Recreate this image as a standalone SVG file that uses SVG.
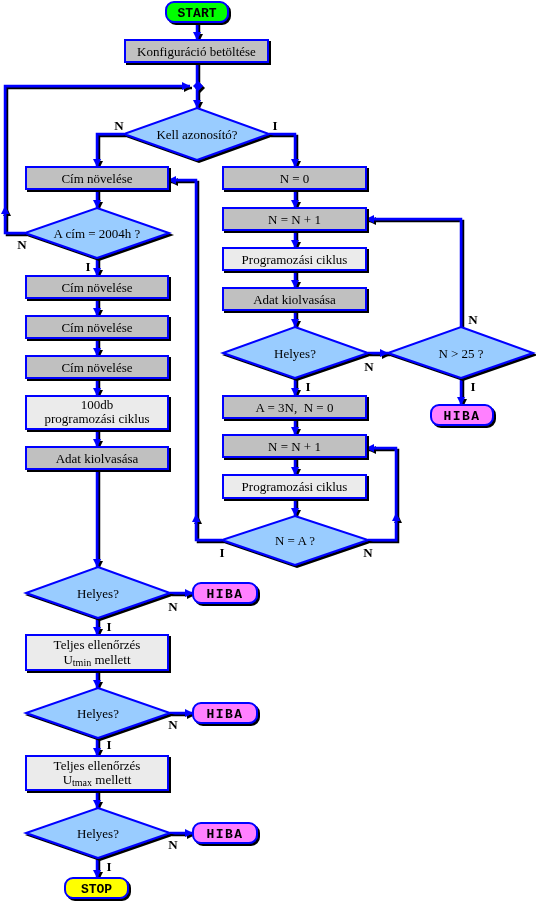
<svg xmlns="http://www.w3.org/2000/svg" xmlns:xlink="http://www.w3.org/1999/xlink" width="536" height="903" viewBox="0 0 536 903">
<style>
.bx{stroke:#0000ff;stroke-width:2;filter:url(#sh)}
.g{fill:#c0c0c0}.l{fill:#ebebeb}.d{fill:#99ccff}
.t{font-family:"Liberation Serif","Times New Roman",serif;font-size:13px;fill:#000;text-anchor:middle}
.lb{font-family:"Liberation Serif","Times New Roman",serif;font-size:13px;font-weight:bold;fill:#000;text-anchor:middle}
.tm{font-family:"Liberation Mono","Courier New",monospace;font-size:13px;font-weight:bold;fill:#000;text-anchor:middle}
.c path{fill:none;stroke:#0000ff;stroke-width:2.5}
</style>
<defs>
<filter id="sh" filterUnits="userSpaceOnUse" x="0" y="0" width="536" height="903"><feDropShadow dx="2" dy="2" stdDeviation="0" flood-color="#000" flood-opacity="1"/></filter>
<marker id="a" viewBox="0 0 10 10" refX="10" refY="5" markerWidth="8" markerHeight="8" markerUnits="userSpaceOnUse" orient="auto"><path d="M0,0 L10,5 L0,10 z" fill="#0000ff" stroke="none"/></marker>
<path id="up" d="M-4,4 L4,4 L0,-4 z" fill="#0000ff"/>
</defs>
<g class="c" filter="url(#sh)">
<path d="M197,22 V40" marker-end="url(#a)"/>
<path d="M197,62 V108" marker-end="url(#a)"/>
<path d="M25,233 H5 V86 H190" marker-end="url(#a)"/>
<use xlink:href="#up" x="5" y="210"/>
<polygon points="198,81 203,86 198,91 193,86" fill="#0000ff"/>
<path d="M124,134 H97 V167" marker-end="url(#a)"/>
<path d="M269,134 H295 V167" marker-end="url(#a)"/>
<path d="M97,189 V208" marker-end="url(#a)"/>
<path d="M97,258 V276" marker-end="url(#a)"/>
<path d="M97,298 V316" marker-end="url(#a)"/>
<path d="M97,338 V356" marker-end="url(#a)"/>
<path d="M97,378 V396" marker-end="url(#a)"/>
<path d="M97,429 V447" marker-end="url(#a)"/>
<path d="M97,469 V567" marker-end="url(#a)"/>
<path d="M170,593 H193" marker-end="url(#a)"/>
<path d="M97,618 V635" marker-end="url(#a)"/>
<path d="M97,670 V688" marker-end="url(#a)"/>
<path d="M170,713 H193" marker-end="url(#a)"/>
<path d="M97,738 V756" marker-end="url(#a)"/>
<path d="M97,790 V808" marker-end="url(#a)"/>
<path d="M170,833 H193" marker-end="url(#a)"/>
<path d="M97,858 V878" marker-end="url(#a)"/>
<path d="M295,189 V208" marker-end="url(#a)"/>
<path d="M295,230 V248" marker-end="url(#a)"/>
<path d="M295,270 V288" marker-end="url(#a)"/>
<path d="M295,310 V327" marker-end="url(#a)"/>
<path d="M368,353 H388" marker-end="url(#a)"/>
<path d="M295,378 V396" marker-end="url(#a)"/>
<path d="M461,378 V405" marker-end="url(#a)"/>
<path d="M461,327 V219 H366" marker-end="url(#a)"/>
<path d="M295,418 V435" marker-end="url(#a)"/>
<path d="M295,457 V475" marker-end="url(#a)"/>
<path d="M295,498 V516" marker-end="url(#a)"/>
<path d="M368,540 H396 V448 H366" marker-end="url(#a)"/>
<use xlink:href="#up" x="396" y="517"/>
<path d="M222,540 H196 V180 H168" marker-end="url(#a)"/>
<use xlink:href="#up" x="196" y="518"/>
</g>
<g id="start"><rect class="bx" x="166" y="2" width="62" height="20" rx="8" fill="#00ff00"/><text class="tm" x="197" y="16.5">START</text></g>
<g id="konfig"><rect class="bx g" x="125" y="40" width="143" height="22"/><text class="t" x="196.5" y="55.5">Konfiguráció betöltése</text></g>
<g id="kell"><polygon class="bx d" points="197,108 269,134 197,160 124,134"/><text class="t" x="197" y="138.5">Kell azonosító?</text></g>
<g id="cim0"><rect class="bx g" x="26" y="167" width="142" height="22"/><text class="t" x="97" y="182.5">Cím növelése</text></g>
<g id="cim2004"><polygon class="bx d" points="97,208 169,233 97,258 25,233"/><text class="t" x="97" y="237.5">A cím = 2004h ?</text></g>
<g id="cim1"><rect class="bx g" x="26" y="276" width="142" height="22"/><text class="t" x="97" y="291.5">Cím növelése</text></g>
<g id="cim2"><rect class="bx g" x="26" y="316" width="142" height="22"/><text class="t" x="97" y="331.5">Cím növelése</text></g>
<g id="cim3"><rect class="bx g" x="26" y="356" width="142" height="22"/><text class="t" x="97" y="371.5">Cím növelése</text></g>
<g id="prog100"><rect class="bx l" x="26" y="396" width="142" height="33"/><text class="t" x="97" y="409">100db</text><text class="t" x="97" y="423">programozási ciklus</text></g>
<g id="adat1"><rect class="bx g" x="26" y="447" width="142" height="22"/><text class="t" x="97" y="462.5">Adat kiolvasása</text></g>
<g id="helyes1"><polygon class="bx d" points="98,567 170,593 98,618 26,593"/><text class="t" x="98" y="597.5">Helyes?</text></g>
<g id="hiba1"><rect class="bx" x="193" y="583" width="64" height="20" rx="8" fill="#ff80ff"/><text class="tm" x="225" y="597.5" letter-spacing="1.5">HIBA</text></g>
<g id="teljes1"><rect class="bx l" x="26" y="635" width="142" height="35"/><text class="t" x="97" y="649">Teljes ellenőrzés</text><text class="t" x="97" y="664">U<tspan font-size="10" dy="2">tmin</tspan><tspan dy="-2"> mellett</tspan></text></g>
<g id="helyes2"><polygon class="bx d" points="98,688 170,713 98,738 26,713"/><text class="t" x="98" y="717.5">Helyes?</text></g>
<g id="hiba2"><rect class="bx" x="193" y="703" width="64" height="20" rx="8" fill="#ff80ff"/><text class="tm" x="225" y="717.5" letter-spacing="1.5">HIBA</text></g>
<g id="teljes2"><rect class="bx l" x="26" y="756" width="142" height="34"/><text class="t" x="97" y="770">Teljes ellenőrzés</text><text class="t" x="97" y="784">U<tspan font-size="10" dy="2">tmax</tspan><tspan dy="-2"> mellett</tspan></text></g>
<g id="helyes3"><polygon class="bx d" points="98,808 170,833 98,858 26,833"/><text class="t" x="98" y="837.5">Helyes?</text></g>
<g id="hiba3"><rect class="bx" x="193" y="823" width="64" height="20" rx="8" fill="#ff80ff"/><text class="tm" x="225" y="837.5" letter-spacing="1.5">HIBA</text></g>
<g id="stop"><rect class="bx" x="65" y="878" width="63" height="20" rx="8" fill="#ffff00"/><text class="tm" x="96.5" y="892.5">STOP</text></g>
<g id="n0"><rect class="bx g" x="223" y="167" width="143" height="22"/><text class="t" x="294.5" y="182.5">N = 0</text></g>
<g id="nn1a"><rect class="bx g" x="223" y="208" width="143" height="22"/><text class="t" x="294.5" y="223.5">N = N + 1</text></g>
<g id="proga"><rect class="bx l" x="223" y="248" width="143" height="22"/><text class="t" x="294.5" y="263.5">Programozási ciklus</text></g>
<g id="adat2"><rect class="bx g" x="223" y="288" width="143" height="22"/><text class="t" x="294.5" y="303.5">Adat kiolvasása</text></g>
<g id="helyesr"><polygon class="bx d" points="295,327 368,353 295,378 223,353"/><text class="t" x="295" y="357.5">Helyes?</text></g>
<g id="n25"><polygon class="bx d" points="461,327 533,353 461,378 388,353"/><text class="t" x="461" y="357.5">N &gt; 25 ?</text></g>
<g id="hibar"><rect class="bx" x="431" y="405" width="62" height="20" rx="8" fill="#ff80ff"/><text class="tm" x="462" y="419.5" letter-spacing="1.5">HIBA</text></g>
<g id="a3n"><rect class="bx g" x="223" y="396" width="143" height="22"/><text class="t" x="294.5" y="411.5">A = 3N,&#160; N = 0</text></g>
<g id="nn1b"><rect class="bx g" x="223" y="435" width="143" height="22"/><text class="t" x="294.5" y="450.5">N = N + 1</text></g>
<g id="progb"><rect class="bx l" x="223" y="475" width="143" height="23"/><text class="t" x="294.5" y="491">Programozási ciklus</text></g>
<g id="nea"><polygon class="bx d" points="295,516 368,540 295,565 222,540"/><text class="t" x="295" y="544.5">N = A ?</text></g>
<g id="labels">
<text class="lb" x="119" y="130">N</text><text class="lb" x="275" y="130">I</text>
<text class="lb" x="22" y="249">N</text><text class="lb" x="88" y="271">I</text>
<text class="lb" x="369" y="371">N</text><text class="lb" x="473" y="324">N</text>
<text class="lb" x="308" y="391">I</text><text class="lb" x="473" y="391">I</text>
<text class="lb" x="222" y="557">I</text><text class="lb" x="368" y="557">N</text>
<text class="lb" x="173" y="611">N</text><text class="lb" x="109" y="631">I</text>
<text class="lb" x="173" y="729">N</text><text class="lb" x="109" y="749">I</text>
<text class="lb" x="173" y="849">N</text><text class="lb" x="109" y="871">I</text>
</g>
</svg>
